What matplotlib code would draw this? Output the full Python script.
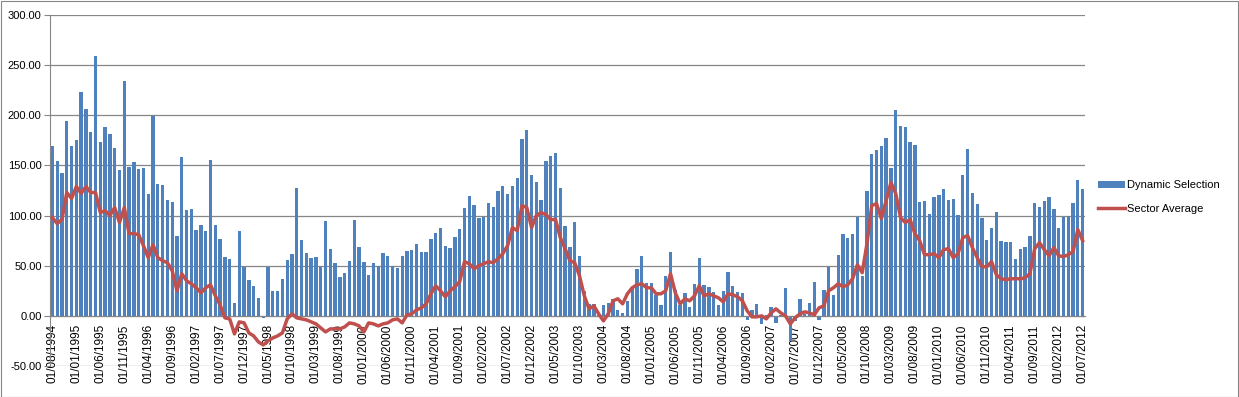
import numpy as np
import pandas as pd
import matplotlib
matplotlib.use("Agg")
import matplotlib.pyplot as plt
from matplotlib.patches import Rectangle

plt.rcParams["font.family"] = ["Liberation Sans", "DejaVu Sans"]

# ---- data: monthly, 01/08/1994 .. 01/07/2012 ----
dates = pd.date_range("1994-08-01", periods=216, freq="MS")
date_labels = [d.strftime("%d/%m/%Y") for d in dates]

dynamic_selection = [
    169, 154, 142, 194, 169, 175, 223, 206, 183, 259, 173, 188, 181, 167, 145, 234, 148, 153, 146, 147, 122, 199,
    131, 130, 116, 114, 80, 158, 106, 107, 86, 91, 85, 155, 91, 77, 59, 57, 13, 85, 49, 36, 30,
    18, -2, 49, 25, 25, 37, 56, 62, 127, 76, 63, 58, 59, 49, 95, 67, 53, 39, 43, 55, 96,
    69, 54, 41, 53, 50, 63, 60, 50, 48, 60, 65, 66, 72, 64, 64, 77, 83, 88, 70, 68, 79, 87,
    108, 120, 111, 98, 99, 113, 109, 125, 129, 122, 129, 137, 176, 185, 140, 133, 116, 154, 159, 162, 127,
    90, 69, 94, 60, 25, 12, 12, 0.5, 11, 13, 17, 6, 3, 15, 27, 47, 60, 33, 33, 21, 11,
    40, 64, 26, 11, 23, 9, 32, 58, 31, 29, 24, 11, 25, 44, 30, 24, 23, -4, 6, 12, -8,
    1, 9, -7, 0.5, 28, -25, -5, 17, 2, 13, 34, -4, 26, 49, 21, 61, 82, 78, 82, 99, 40, 125,
    161, 165, 169, 177, 147, 205, 189, 188, 173, 170, 114, 115, 102, 119, 121, 126, 116, 117, 101, 140, 166,
    123, 112, 98, 76, 88, 104, 75, 74, 74, 57, 67, 69, 80, 113, 109, 115, 119, 107, 88, 99, 100, 113, 135, 126,
]

sector_average = [
    98, 92, 96, 123, 117, 129, 122, 129, 123, 123, 103, 105, 100, 108, 93, 108, 82, 82, 81, 70, 58, 71,
    58, 55, 53, 45, 25, 42, 35, 32, 28, 23, 28, 31, 20, 11, -2, -3, -18, -6, -7, -17, -20,
    -26, -29, -25, -22, -20, -17, -3, 2, -2, -3, -4, -6, -8, -12, -16, -13, -13, -13, -11, -7, -8,
    -10, -16, -7, -8, -10, -8, -7, -4, -3, -7, 1, 2, 6, 8, 12, 22, 30, 25, 19, 25, 29, 34,
    54, 52, 47, 50, 52, 54, 53, 57, 62, 70, 88, 85, 110, 108, 88, 100, 103, 101, 96, 96, 78,
    67, 55, 53, 40, 20, 7, 10, 2, -5, 2, 15, 17, 12, 22, 28, 31, 32, 28, 28, 22, 22,
    25, 42, 23, 12, 17, 15, 20, 30, 20, 22, 20, 18, 14, 22, 21, 19, 15, 5, -1, -1, 0,
    -3, 3, 7, 3, 0, -8, -2, 2, 4, 3, 1, 8, 10, 25, 28, 32, 29, 31, 37, 51, 43, 72,
    110, 112, 97, 115, 133, 122, 98, 93, 96, 82, 75, 61, 61, 62, 58, 66, 67, 58, 62, 78, 80,
    68, 58, 49, 49, 54, 41, 37, 36, 37, 37, 37, 38, 42, 67, 73, 66, 60, 68, 60, 59, 61, 64, 86, 75,
]

y_ticks = [-50, 0, 50, 100, 150, 200, 250, 300]

BLUE = "#4F81BD"
RED = "#C0504D"
GRID = "#868686"

fig = plt.figure(figsize=(12.39, 3.97), dpi=100)
ax = fig.add_axes([50 / 1239, 1 - 366 / 397, 1035 / 1239, 351 / 397])

# move the category axis to y=0 first (this resets tick objects)
for s in ("top", "right"):
    ax.spines[s].set_visible(False)
ax.spines["bottom"].set_position(("data", 0))
ax.spines["bottom"].set_color(GRID)
ax.spines["left"].set_color(GRID)

x = np.arange(len(dates))
bars = ax.bar(x, dynamic_selection, width=0.7, color=BLUE, zorder=2)
line, = ax.plot(x, sector_average, color=RED, lw=2.5, zorder=3, solid_joinstyle="round")

ax.set_xlim(-0.5, len(dates) - 0.5)
ax.set_ylim(-50, 300)
ax.set_yticks(y_ticks)
ax.set_yticklabels([f"{v:.2f}" for v in y_ticks])
ax.yaxis.grid(True, color=GRID, lw=0.9, zorder=0)
ax.set_axisbelow(True)

ax.set_xticks(x[::5])
ax.set_xticklabels(date_labels[::5])
ax.tick_params(axis="x", length=0, pad=6, labelrotation=90, labelsize=8.5)
ax.tick_params(axis="y", length=4, color=GRID, pad=2, labelsize=8)
for t in ax.get_xticklabels():
    t.set_va("top")

fig.legend([bars, line], ["Dynamic Selection", "Sector Average"], loc="center left",
           bbox_to_anchor=(1088 / 1239, 1 - 197 / 397),
           frameon=False, fontsize=8, handlelength=2.4, handletextpad=0.2,
           labelspacing=1.2)

fig.patches.append(Rectangle((0.5 / 1239, 0.5 / 397), 1 - 1.5 / 1239, 1 - 1.5 / 397,
                             transform=fig.transFigure, fill=False, ec=GRID, lw=0.8))

fig.savefig("out.png", dpi=100)
